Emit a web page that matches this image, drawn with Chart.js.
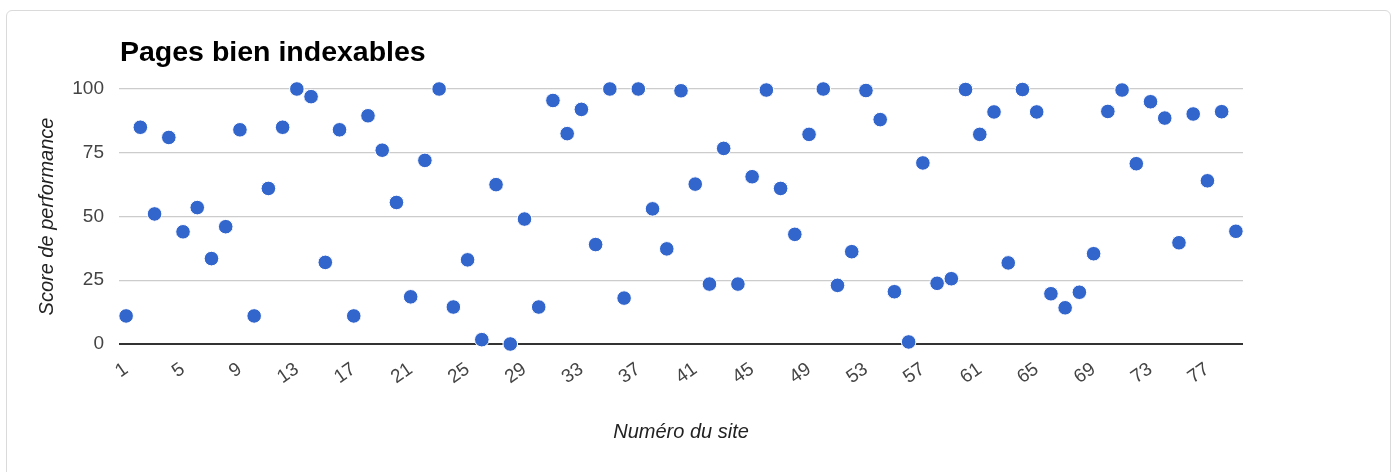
<!DOCTYPE html>
<html>
<head>
<meta charset="utf-8">
<script src="https://cdn.jsdelivr.net/npm/chart.js@4/dist/chart.umd.min.js"></script>
<style>
  html, body { margin: 0; padding: 0; background: #fff; }
  body { width: 1396px; height: 472px; position: relative; overflow: hidden; }
  #card { position: absolute; left: 6px; top: 10px; width: 1385px; height: 480px;
          border: 1px solid #dadada; border-radius: 6px; box-sizing: border-box; }
  #c { position: absolute; left: 0; top: 0; }
</style>
</head>
<body>
<div id="card"></div>
<canvas id="c" width="1396" height="472"></canvas>
<script>
// numéros de site (axe x)
var sites = ['1','2','3','4','5','6','7','8','9','10','11','12','13','14','15','16','17','18','19','20',
  '21','22','23','24','25','26','27','28','29','30','31','32','33','34','35','36','37','38','39','40',
  '41','42','43','44','45','46','47','48','49','50','51','52','53','54','55','56','57','58','59','60',
  '61','62','63','64','65','66','67','68','69','70','71','72','73','74','75','76','77','78','79'];

// score de performance
var scores = [11, 85, 51, 81, 44, 53.5, 33.5, 46, 84, 11,
  61, 85, 100, 97, 32, 84, 11, 89.5, 76, 55.5,
  18.5, 72, 100, 14.5, 33, 1.7, 62.5, 0, 49, 14.5,
  95.5, 82.5, 92, 39, 100, 18, 100, 53, 37.3, 99.3,
  62.7, 23.5, 76.7, 23.5, 65.6, 99.6, 61, 43, 82.2, 100,
  23, 36.2, 99.4, 88, 20.5, 0.8, 71, 23.8, 25.6, 99.8,
  82.2, 91, 31.8, 99.8, 91, 19.7, 14.2, 20.3, 35.4, 91.2,
  99.6, 70.7, 95, 88.6, 39.7, 90.2, 64, 91.1, 44.2];

var xTicks = ['1','5','9','13','17','21','25','29','33','37','41','45','49','53','57','61','65','69','73','77'];
var yTicks = [0, 25, 50, 75, 100];

var titleText = 'Pages bien indexables';
var fontFam = 'Arial, "Liberation Sans", sans-serif';

const ctx = document.getElementById('c');

const titlePlugin = {
  id: 'leftTitle',
  afterDraw: function(chart) {
    var c = chart.ctx;
    c.save();
    c.font = 'bold 28.5px ' + fontFam;
    c.fillStyle = '#000';
    c.textBaseline = 'alphabetic';
    c.textAlign = 'left';
    c.fillText(titleText, chart.chartArea.left + 1, 61);
    c.restore();
  }
};

var chart = new Chart(ctx, {
  type: 'line',
  data: {
    labels: sites,
    datasets: [{
      data: scores,
      showLine: false,
      pointRadius: 7.3,
      pointHoverRadius: 7.3,
      pointBackgroundColor: '#3366cc',
      pointBorderColor: '#ffffff',
      pointBorderWidth: 1,
      clip: false
    }]
  },
  plugins: [titlePlugin],
  options: {
    responsive: false,
    animation: false,
    devicePixelRatio: 1,
    layout: { padding: { left: 35, right: 153, top: 89, bottom: 0 } },
    plugins: {
      legend: { display: false },
      tooltip: { enabled: false },
      title: { display: false }
    },
    scales: {
      x: {
        type: 'category',
        offset: true,
        grid: { display: false, drawTicks: false },
        border: { display: false },
        ticks: {
          autoSkip: false,
          maxRotation: 35,
          minRotation: 35,
          padding: 14,
          color: '#444',
          font: { family: fontFam, size: 19 },
          callback: function(val, i) {
            var l = this.getLabelForValue(val);
            return xTicks.indexOf(l) !== -1 ? l : '';
          }
        },
        title: {
          display: true,
          text: 'Numéro du site',
          color: '#222',
          font: { family: fontFam, size: 20, style: 'italic' },
          padding: { top: 0, bottom: 28 }
        },
        afterFit: function(scale) { scale.height = 128; }
      },
      y: {
        min: 0,
        max: 100,
        afterBuildTicks: function(scale) {
          scale.ticks = yTicks.map(function(v) { return { value: v }; });
        },
        grid: {
          drawTicks: false,
          color: function(c) { return c.tick && c.tick.value === 0 ? '#333' : '#cccccc'; },
          lineWidth: function(c) { return c.tick && c.tick.value === 0 ? 2 : 1.3; }
        },
        border: { display: false },
        ticks: {
          padding: 15,
          color: '#444',
          font: { family: fontFam, size: 19 }
        },
        title: {
          display: true,
          text: 'Score de performance',
          color: '#222',
          font: { family: fontFam, size: 20, style: 'italic' },
          padding: 0
        },
        afterFit: function(scale) { scale.width = 84; }
      }
    }
  }
});
</script>
</body>
</html>
